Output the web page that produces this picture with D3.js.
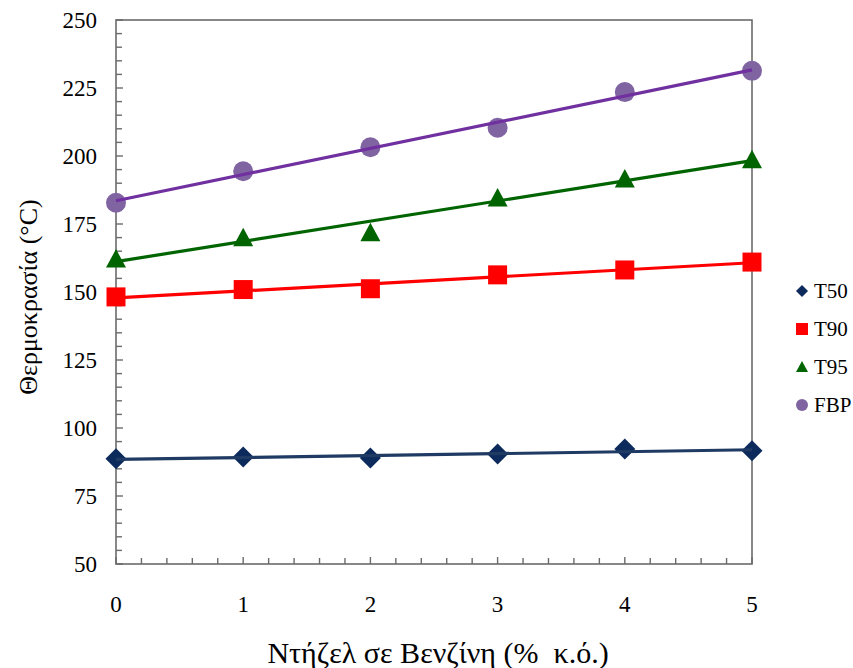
<!DOCTYPE html>
<html><head><meta charset="utf-8">
<script src="https://cdn.jsdelivr.net/npm/d3@7"></script>
</head><body style="margin:0">
<svg id="c" width="853" height="668" font-family="Liberation Serif"></svg>
<script>
const xValues = [0, 1, 2, 3, 4, 5];
const seriesNames = ["T50", "T90", "T95", "FBP"];
const t50 = [88.7, 89.3, 89.0, 90.4, 92.3, 91.6];
const t90 = [148.2, 150.9, 151.2, 156.3, 158.1, 161.0];
const t95 = [162.1, 169.9, 171.8, 184.6, 191.5, 198.6];
const fbp = [182.8, 194.4, 203.2, 210.4, 223.5, 231.3];
const yTicks = [50, 75, 100, 125, 150, 175, 200, 225, 250];
const xTicks = [0, 1, 2, 3, 4, 5];
const yTitle = "Θερμοκρασία (°C)";
const xTitle = "Ντήζελ σε Βενζίνη (%\u00a0 κ.ό.)";

const series = [
  {name: seriesNames[0], values: t50, marker: "diamond", fill: "#0d2a5c", line: "#1f3b64"},
  {name: seriesNames[1], values: t90, marker: "square", fill: "#ff0000", line: "#ff0000"},
  {name: seriesNames[2], values: t95, marker: "triangle", fill: "#006400", line: "#006400"},
  {name: seriesNames[3], values: fbp, marker: "circle", fill: "#8064a2", line: "#7030a0"}
];

const svg = d3.select("#c");
const FONT = "Liberation Serif";
const L = 116, R = 752, T = 20, B = 564;
const x = d3.scaleLinear().domain([0, 5]).range([L, R]);
const y = d3.scaleLinear().domain([50, 250]).range([B, T]);
const axisColor = "#6b6b6b";

svg.append("rect").attr("x", L).attr("y", T).attr("width", R - L).attr("height", B - T)
  .attr("fill", "none").attr("stroke", axisColor).attr("stroke-width", 1.6);

const yMinor = d3.range(50, 250.001, 5);
svg.append("g").selectAll("line").data(yMinor).join("line")
  .attr("x1", L).attr("x2", d => L + (d % 25 === 0 ? 7 : 6))
  .attr("y1", d => y(d)).attr("y2", d => y(d))
  .attr("stroke", axisColor).attr("stroke-width", 1.4);
svg.append("g").selectAll("text").data(yTicks).join("text")
  .style("font-family", FONT)
  .attr("x", 97).attr("y", d => y(d) + 8).attr("text-anchor", "end")
  .style("font-size", "23px").text(d => d);

const xMinor = d3.range(0, 5.0001, 0.2);
svg.append("g").selectAll("line").data(xMinor).join("line")
  .attr("x1", d => x(d)).attr("x2", d => x(d))
  .attr("y1", B).attr("y2", d => B - (Math.abs(d - Math.round(d)) < 1e-6 ? 7 : 6))
  .attr("stroke", axisColor).attr("stroke-width", 1.4);
svg.append("g").selectAll("text").data(xTicks).join("text")
  .style("font-family", FONT)
  .attr("x", d => x(d)).attr("y", 612).attr("text-anchor", "middle")
  .style("font-size", "23px").text(d => d);

svg.append("text").style("font-family", FONT).attr("x", 438).attr("y", 663).attr("text-anchor", "middle")
  .style("font-size", "30px").text(xTitle);
svg.append("text").style("font-family", FONT).attr("transform", "translate(37,297) rotate(-90)").attr("text-anchor", "middle")
  .style("font-size", "26px").text(yTitle);

function markerPath(type, s) {
  const h = s / 2;
  if (type === "diamond") return `M0,${-h}L${h},0L0,${h}L${-h},0Z`;
  if (type === "square") return `M${-h},${-h}H${h}V${h}H${-h}Z`;
  if (type === "triangle") return `M0,${-h}L${h},${h * 0.85}L${-h},${h * 0.85}Z`;
  return null;
}
function drawMarker(g, type, cx, cy, s, fill) {
  if (type === "circle") {
    g.append("circle").attr("cx", cx).attr("cy", cy).attr("r", s / 2).attr("fill", fill);
  } else {
    g.append("path").attr("d", markerPath(type, s)).attr("transform", `translate(${cx},${cy})`).attr("fill", fill);
  }
}

const sizes = {diamond: 21, square: 19, triangle: 20, circle: 20};
const plot = svg.append("g");
series.forEach(s => {
  const gm = plot.append("g");
  s.values.forEach((v, i) => drawMarker(gm, s.marker, x(xValues[i]), y(v), sizes[s.marker], s.fill));
});
series.forEach(s => {
  const mx = d3.mean(xValues), my = d3.mean(s.values);
  const slope = d3.sum(xValues, (xv, i) => (xv - mx) * (s.values[i] - my)) / d3.sum(xValues, xv => (xv - mx) ** 2);
  const b = my - slope * mx;
  plot.append("line").attr("x1", x(0)).attr("y1", y(b)).attr("x2", x(5)).attr("y2", y(b + slope * 5))
    .attr("stroke", s.line).attr("stroke-width", 3.2);
});

const leg = svg.append("g");
const legY = [291, 329, 367, 405];
series.forEach((s, i) => {
  drawMarker(leg, s.marker, 802, legY[i], 12, s.fill);
  leg.append("text").style("font-family", FONT).attr("x", 814).attr("y", legY[i] + 7).style("font-size", "21px").text(s.name);
});
</script>
</body></html>
